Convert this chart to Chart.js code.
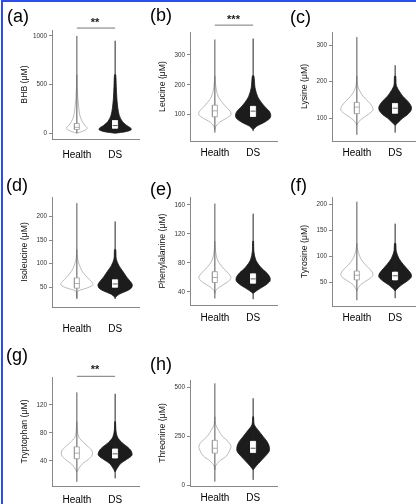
<!DOCTYPE html>
<html>
<head>
<meta charset="utf-8">
<script src="https://cdn.jsdelivr.net/npm/chart.js@4"></script>
<style>
  html, body { margin: 0; padding: 0; background: #fff; }
  body { width: 416px; height: 504px; position: relative; overflow: hidden;
         font-family: "Liberation Sans", Arial, sans-serif; }
  #frame { position: absolute; left: 1px; top: 0; width: 430px; height: 520px;
           border-top: 2px solid #2b4cf0; border-left: 2px solid #2b4cf0; }
  canvas { position: absolute; }
  .lab { position: absolute; font-size: 18px; line-height: 1; color: #000; }
  .sig { position: absolute; width: 40px; text-align: center; font-size: 11px;
         font-weight: bold; line-height: 1; color: #222; }
</style>
</head>
<body>
<div id="frame"></div>
<script>
// groups on the x axis
const categories = ['Health', 'DS'];

// one entry per panel, (a) .. (h)
const panelLetters = ['(a)', '(b)', '(c)', '(d)', '(e)', '(f)', '(g)', '(h)'];
const yTitles = ['BHB (μM)', 'Leucine (μM)', 'Lysine (μM)', 'Isoleucine (μM)',
  'Phenylalanine (μM)', 'Tyrosine (μM)', 'Tryptophan (μM)', 'Threonine (μM)'];
const yTicks = [[0, 500, 1000], [100, 200, 300], [100, 200, 300], [50, 100, 150, 200],
  [40, 80, 120, 160], [50, 100, 150, 200], [40, 80, 120], [0, 250, 500]];
const yLimits = [[-60, 1060], [12, 377], [37, 336], [8, 242], [22, 171], [5, 214], [4, 160], [-2, 537]];
const significance = ['**', '***', '', '', '', '', '**', ''];
const sigLevel = [1080, 400, null, null, null, null, 161, null];

// violin outlines: value levels and half widths (x units) at each level
const densityLevels = [
  [0, 15, 35, 55, 80, 120, 180, 260, 360, 480, 600],
  [50, 62, 75, 88, 100, 112, 125, 140, 160, 190, 230],
  [80, 90, 100, 110, 122, 132, 145, 160, 175, 190, 215],
  [28, 35, 42, 48, 55, 62, 72, 84, 96, 110, 130],
  [38, 42, 46, 50, 55, 60, 66, 74, 84, 96, 110],
  [34, 40, 46, 53, 60, 66, 74, 84, 96, 110, 125],
  [24, 30, 36, 42, 48, 54, 60, 66, 74, 84, 96],
  [80, 100, 125, 150, 175, 200, 225, 250, 280, 310, 350]
];
const healthDensity = [
  [0, 0.12, 0.24, 0.27, 0.21, 0.14, 0.08, 0.05, 0.025, 0.01, 0],
  [0, 0.03, 0.12, 0.3, 0.42, 0.4, 0.3, 0.2, 0.09, 0.03, 0],
  [0, 0.05, 0.16, 0.3, 0.42, 0.4, 0.3, 0.16, 0.07, 0.02, 0],
  [0, 0.005, 0.03, 0.25, 0.42, 0.38, 0.26, 0.14, 0.07, 0.02, 0],
  [0, 0.02, 0.1, 0.22, 0.36, 0.42, 0.35, 0.2, 0.07, 0.02, 0],
  [0, 0.04, 0.1, 0.24, 0.38, 0.42, 0.36, 0.22, 0.1, 0.03, 0],
  [0, 0.06, 0.15, 0.3, 0.4, 0.4, 0.3, 0.18, 0.05, 0.015, 0],
  [0, 0.02, 0.12, 0.3, 0.38, 0.42, 0.34, 0.2, 0.1, 0.02, 0]
];
const dsDensity = [
  [0, 0.28, 0.42, 0.4, 0.3, 0.19, 0.11, 0.07, 0.045, 0.03, 0.015],
  [0, 0.1, 0.3, 0.44, 0.46, 0.42, 0.32, 0.22, 0.12, 0.05, 0.02],
  [0, 0.1, 0.2, 0.33, 0.42, 0.42, 0.34, 0.2, 0.1, 0.03, 0.015],
  [0, 0.1, 0.3, 0.42, 0.45, 0.4, 0.3, 0.2, 0.1, 0.03, 0.015],
  [0, 0.1, 0.22, 0.34, 0.44, 0.44, 0.36, 0.2, 0.07, 0.02, 0.01],
  [0, 0.08, 0.18, 0.32, 0.42, 0.42, 0.34, 0.22, 0.1, 0.03, 0.015],
  [0, 0.06, 0.14, 0.3, 0.44, 0.42, 0.32, 0.18, 0.06, 0.02, 0.01],
  [0, 0.08, 0.2, 0.32, 0.42, 0.42, 0.36, 0.26, 0.14, 0.03, 0.01]
];

// box stats [q1, median, q3] and point range [min, max]
const healthBox = [[38, 60, 100], [93, 113, 132], [112, 130, 143], [48, 58, 70],
  [53, 60, 68], [55, 64, 72], [43, 51, 60], [165, 190, 230]];
const dsBox = [[50, 78, 130], [94, 112, 128], [113, 127, 140], [50, 57, 66],
  [52, 58, 65], [55, 63, 70], [44, 50, 57], [168, 190, 225]];
const healthRange = [[0, 1000], [40, 352], [54, 322], [25, 229], [31, 162], [16, 205], [10, 138], [20, 520]];
const dsRange = [[10, 950], [45, 355], [60, 245], [25, 190], [30, 148], [20, 163], [15, 136], [29, 444]];

// page layout (pixels): plot area [left, top, right, bottom]
const plotBoxes = [[52, 30, 140, 139], [190, 32, 278, 141], [332, 32, 420, 141],
  [52, 197, 140, 307], [190, 197, 278, 305], [332, 197, 420, 306],
  [52, 377, 140, 486], [190, 380, 278, 486]];
const xLabelPad = [10, 6, 6, 16, 7, 6, 8, 6];
const letterPos = [[7, 7], [150, 6], [290, 8], [6, 176], [150, 180], [290, 176], [6, 346], [150, 355]];
const sigPos = [[75, 17], [213.5, 14], null, null, null, null, [75, 364], null];

const FONT = '"Liberation Sans", Arial, sans-serif';
Chart.defaults.font.family = FONT;
const AXIS_W = 33, TOP_PAD = 14, XAXIS_H = 28;
const BOX_HW = 0.065;

function violinPath(pos, levels, widths) {
  const right = levels.map((v, i) => ({x: pos + widths[i], y: v}));
  const left = levels.map((v, i) => ({x: pos - widths[i], y: v})).reverse();
  const pts = right.concat(left);
  pts.push(pts[0]);
  return pts;
}
function boxPath(pos, b) {
  return [{x: pos - BOX_HW, y: b[0]}, {x: pos + BOX_HW, y: b[0]}, {x: pos + BOX_HW, y: b[2]},
          {x: pos - BOX_HW, y: b[2]}, {x: pos - BOX_HW, y: b[0]}];
}

function addDiv(cls, text, left, top) {
  const d = document.createElement('div');
  d.className = cls;
  d.textContent = text;
  d.style.left = left + 'px';
  d.style.top = top + 'px';
  document.body.appendChild(d);
}

panelLetters.forEach((letter, p) => {
  const [pl, pt, pr, pb] = plotBoxes[p];
  const canvas = document.createElement('canvas');
  canvas.width = pr - pl + AXIS_W;
  canvas.height = pb - pt + TOP_PAD + XAXIS_H;
  canvas.style.left = (pl - AXIS_W) + 'px';
  canvas.style.top = (pt - TOP_PAD) + 'px';
  document.body.appendChild(canvas);

  const lv = densityLevels[p];
  const datasets = [
    {data: violinPath(1, lv, healthDensity[p]), borderColor: '#a8a8a8', borderWidth: 0.8,
     backgroundColor: '#fff', fill: 'shape', tension: 0.3, order: 5},
    {data: violinPath(2, lv, dsDensity[p]), borderColor: '#1c1c1c', borderWidth: 0.8,
     backgroundColor: '#1c1c1c', fill: 'shape', tension: 0.3, order: 5},
    {data: [{x: 1, y: healthRange[p][0]}, {x: 1, y: healthRange[p][1]}],
     borderColor: '#555', borderWidth: 1, order: 4},
    {data: [{x: 2, y: dsRange[p][0]}, {x: 2, y: dsRange[p][1]}],
     borderColor: '#222', borderWidth: 1, order: 4},
    {data: boxPath(1, healthBox[p]), borderColor: '#999', borderWidth: 0.8,
     backgroundColor: '#fff', fill: 'shape', order: 2},
    {data: boxPath(2, dsBox[p]), borderColor: '#fff', borderWidth: 0.8,
     backgroundColor: '#fff', fill: 'shape', order: 2},
    {data: [{x: 1 - BOX_HW, y: healthBox[p][1]}, {x: 1 + BOX_HW, y: healthBox[p][1]}],
     borderColor: '#999', borderWidth: 0.8, order: 1},
    {data: [{x: 2 - BOX_HW, y: dsBox[p][1]}, {x: 2 + BOX_HW, y: dsBox[p][1]}],
     borderColor: '#333', borderWidth: 0.8, order: 1}
  ];
  if (sigLevel[p] !== null) {
    datasets.push({data: [{x: 1, y: sigLevel[p]}, {x: 2, y: sigLevel[p]}],
      borderColor: '#777', borderWidth: 1, clip: false, order: 0});
  }

  new Chart(canvas.getContext('2d'), {
    type: 'scatter',
    data: {datasets: datasets.map(d => Object.assign({showLine: true, pointRadius: 0}, d))},
    options: {
      responsive: false,
      animation: false,
      layout: {padding: {top: TOP_PAD, left: 0, right: 0, bottom: 0}},
      plugins: {legend: {display: false}, tooltip: {enabled: false}},
      scales: {
        x: {
          type: 'linear', min: 0.35, max: 2.65,
          grid: {display: false, drawTicks: false},
          border: {display: true, color: '#888', width: 1},
          ticks: {padding: xLabelPad[p], color: '#000', font: {size: 10}, autoSkip: false,
                  maxRotation: 0, callback: v => categories[v - 1] ?? ''},
          afterBuildTicks: s => { s.ticks = [{value: 1}, {value: 2}]; },
          afterFit: s => { s.height = XAXIS_H; }
        },
        y: {
          min: yLimits[p][0], max: yLimits[p][1],
          grid: {display: true, drawOnChartArea: false, drawTicks: true, tickLength: 3, color: '#888'},
          border: {display: true, color: '#888', width: 1},
          ticks: {padding: 2, color: '#333', font: {size: 6.3}, autoSkip: false,
                  callback: v => String(v)},
          afterBuildTicks: s => { s.ticks = yTicks[p].map(v => ({value: v})); },
          title: {display: true, text: yTitles[p], color: '#111', font: {size: 8.7}, padding: 0},
          afterFit: s => { s.width = AXIS_W; }
        }
      }
    }
  });

  addDiv('lab', letter, letterPos[p][0], letterPos[p][1]);
  if (significance[p]) addDiv('sig', significance[p], sigPos[p][0], sigPos[p][1]);
});
</script>
</body>
</html>
